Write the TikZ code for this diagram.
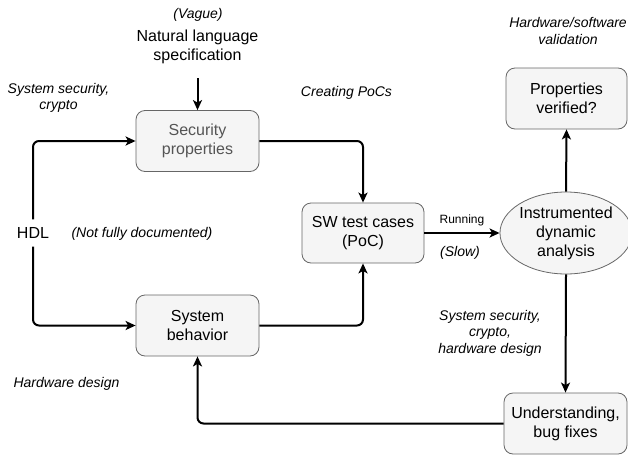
\documentclass[tikz,border=0pt]{standalone}
\usepackage{fontspec}
\setmainfont{Liberation Sans}
\usetikzlibrary{arrows.meta,shapes.geometric}
\definecolor{boxfill}{HTML}{F5F5F5}
\definecolor{boxdraw}{HTML}{666666}
\definecolor{graytext}{HTML}{555555}
\tikzset{
  box/.style={draw=boxdraw,fill=boxfill,rounded corners=9pt,minimum width=123pt,minimum height=61pt,align=center,inner sep=2pt,font=\fontsize{16}{19}\selectfont,line width=0.8pt},
  oval/.style={draw=boxdraw,fill=boxfill,ellipse,minimum width=122pt,minimum height=82pt,inner sep=0pt,align=center,font=\fontsize{16}{19}\selectfont,line width=0.8pt},
  lbl/.style={align=center,font=\fontsize{14}{16.5}\selectfont\itshape,inner sep=0pt},
  plain/.style={align=center,font=\fontsize{16}{19}\selectfont,inner sep=0pt},
  conn/.style={line width=2pt,rounded corners=6pt,-{Stealth[length=10pt,width=9pt,inset=2.5pt]}},
  seg/.style={line width=2pt,rounded corners=6pt}
}
\begin{document}
\begin{tikzpicture}[x=1pt,y=-1pt]
\useasboundingbox (0,0) rectangle (628,455);
% boxes
\node[box,text=graytext] (sec) at (197.5,141) {Security\\properties};
\node[box] (sys) at (197.5,325.5) {System\\behavior};
\node[box,minimum width=122pt,minimum height=60pt] (sw) at (363,233) {SW test cases\\(PoC)};
\node[oval] (ida) at (566,233) {Instrumented\\dynamic\\analysis};
\node[box,minimum width=121pt] (pv) at (566.5,98.5) {Properties\\verified?};
\node[box] (und) at (565.5,423.5) {Understanding,\\bug fixes};
% plain texts
\node[plain] (nls) at (197.5,47) {Natural language\\specification};
\node[lbl] (vague) at (198,15) {(Vague)};
\node[plain] (hdl) at (33,233) {HDL};
\coordinate (nlsb) at (197.5,78);
% labels
\node[lbl] (l1) at (58.5,98) {System security,\\crypto};
\node[lbl] (l2) at (346.5,93) {Creating PoCs};
\node[lbl] (l3) at (568,31) {Hardware/software\\validation};
\node[lbl] (l4) at (142,234) {(Not fully documented)};
\node[lbl] (l6) at (460,253) {(Slow)};
\node[lbl] (l7) at (490,333) {System security,\\crypto,\\hardware design};
\node[lbl] (l8) at (66.5,384) {Hardware design};
% connectors
\draw[conn] (nlsb) -- (sec.north);
\draw[conn] (hdl.north) ++(0,-8) coordinate (h1) -- (33,141) -- (sec.west);
\draw[conn] (hdl.south) ++(0,8) coordinate (h2) -- (33,325.5) -- (sys.west);
\draw[conn] (sec.east) -- (363,141) -- (sw.north);
\draw[conn] (sys.east) -- (363,325.5) -- (sw.south);
\draw[conn] (sw.east) -- node[above=6pt,font=\fontsize{12}{14}\selectfont,inner sep=0pt] (run) {Running} (ida.west);
\draw[conn] (ida.north) -- (pv.south);
\draw[conn] (ida.south) -- (und.north);
\draw[conn] (und.west) -- (197.5,423.5) -- (sys.south);
\end{tikzpicture}
\end{document}
